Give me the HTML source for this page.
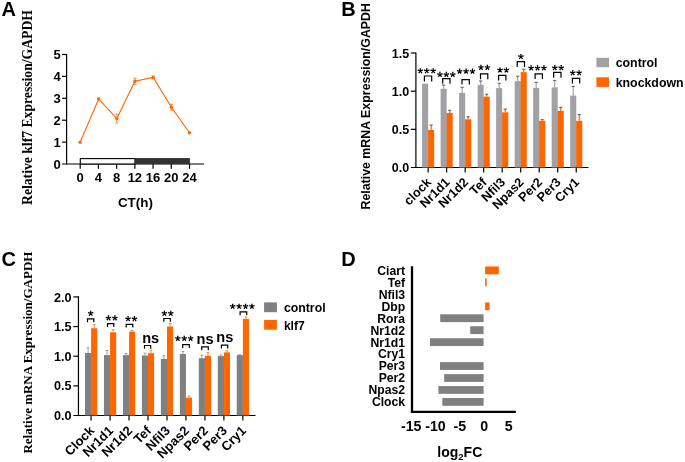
<!DOCTYPE html>
<html><head><meta charset="utf-8"><title>Figure</title>
<style>
html,body{margin:0;padding:0;background:#fff;}
body{width:685px;height:462px;overflow:hidden;font-family:"Liberation Sans",sans-serif;}
svg{display:block;will-change:transform;}
text{fill:#000;}
</style></head><body>
<svg width="685" height="462" viewBox="0 0 685 462">
<rect x="0" y="0" width="685" height="462" fill="#ffffff"/>
<text x="1.60" y="15.90" font-size="20" text-anchor="start" font-weight="bold" font-family="Liberation Sans, sans-serif" >A</text>
<text x="341.30" y="15.80" font-size="20" text-anchor="start" font-weight="bold" font-family="Liberation Sans, sans-serif" >B</text>
<text x="1.60" y="266.10" font-size="20" text-anchor="start" font-weight="bold" font-family="Liberation Sans, sans-serif" >C</text>
<text x="341.30" y="266.40" font-size="20" text-anchor="start" font-weight="bold" font-family="Liberation Sans, sans-serif" >D</text>
<line x1="66.60" y1="53.90" x2="66.60" y2="164.60" stroke="#000" stroke-width="1.2" />
<line x1="62.00" y1="164.00" x2="204.00" y2="164.00" stroke="#000" stroke-width="1.2" />
<text x="60.70" y="168.70" font-size="13" text-anchor="end" font-weight="bold" font-family="Liberation Sans, sans-serif" >0</text>
<line x1="62.00" y1="142.10" x2="66.60" y2="142.10" stroke="#000" stroke-width="1.2" />
<text x="60.70" y="146.80" font-size="13" text-anchor="end" font-weight="bold" font-family="Liberation Sans, sans-serif" >1</text>
<line x1="62.00" y1="120.20" x2="66.60" y2="120.20" stroke="#000" stroke-width="1.2" />
<text x="60.70" y="124.90" font-size="13" text-anchor="end" font-weight="bold" font-family="Liberation Sans, sans-serif" >2</text>
<line x1="62.00" y1="98.30" x2="66.60" y2="98.30" stroke="#000" stroke-width="1.2" />
<text x="60.70" y="103.00" font-size="13" text-anchor="end" font-weight="bold" font-family="Liberation Sans, sans-serif" >3</text>
<line x1="62.00" y1="76.40" x2="66.60" y2="76.40" stroke="#000" stroke-width="1.2" />
<text x="60.70" y="81.10" font-size="13" text-anchor="end" font-weight="bold" font-family="Liberation Sans, sans-serif" >4</text>
<line x1="62.00" y1="54.50" x2="66.60" y2="54.50" stroke="#000" stroke-width="1.2" />
<text x="60.70" y="59.20" font-size="13" text-anchor="end" font-weight="bold" font-family="Liberation Sans, sans-serif" >5</text>
<line x1="80.20" y1="164.00" x2="80.20" y2="168.80" stroke="#000" stroke-width="1.2" />
<text x="80.20" y="182.30" font-size="13" text-anchor="middle" font-weight="bold" font-family="Liberation Sans, sans-serif" >0</text>
<line x1="98.42" y1="164.00" x2="98.42" y2="168.80" stroke="#000" stroke-width="1.2" />
<text x="98.42" y="182.30" font-size="13" text-anchor="middle" font-weight="bold" font-family="Liberation Sans, sans-serif" >4</text>
<line x1="116.64" y1="164.00" x2="116.64" y2="168.80" stroke="#000" stroke-width="1.2" />
<text x="116.64" y="182.30" font-size="13" text-anchor="middle" font-weight="bold" font-family="Liberation Sans, sans-serif" >8</text>
<line x1="134.86" y1="164.00" x2="134.86" y2="168.80" stroke="#000" stroke-width="1.2" />
<text x="134.86" y="182.30" font-size="13" text-anchor="middle" font-weight="bold" font-family="Liberation Sans, sans-serif" >12</text>
<line x1="153.08" y1="164.00" x2="153.08" y2="168.80" stroke="#000" stroke-width="1.2" />
<text x="153.08" y="182.30" font-size="13" text-anchor="middle" font-weight="bold" font-family="Liberation Sans, sans-serif" >16</text>
<line x1="171.30" y1="164.00" x2="171.30" y2="168.80" stroke="#000" stroke-width="1.2" />
<text x="171.30" y="182.30" font-size="13" text-anchor="middle" font-weight="bold" font-family="Liberation Sans, sans-serif" >20</text>
<line x1="189.52" y1="164.00" x2="189.52" y2="168.80" stroke="#000" stroke-width="1.2" />
<text x="189.52" y="182.30" font-size="13" text-anchor="middle" font-weight="bold" font-family="Liberation Sans, sans-serif" >24</text>
<rect x="80.30" y="158.60" width="54.66" height="5.40" fill="#fff" stroke="#000" stroke-width="1.1"/>
<rect x="134.86" y="158.05" width="55.06" height="5.95" fill="#333" />
<text x="135.40" y="206.70" font-size="13.4" text-anchor="middle" font-weight="bold" font-family="Liberation Sans, sans-serif" >CT(h)</text>
<text transform="translate(31.8,107.5) rotate(-90)" font-size="14" textLength="195" lengthAdjust="spacingAndGlyphs" text-anchor="middle" font-weight="bold" font-family="Liberation Serif, serif">Relative klf7 Expression/GAPDH</text>
<polyline fill="none" stroke="#ff6600" stroke-width="1.1" points="80.1,142.3 98.7,99 116.8,118.6 134.9,81.3 153.2,77.4 171.4,107.3 189.5,132.7"/>
<circle cx="80.1" cy="142.3" r="1.7" fill="#ff6600"/>
<circle cx="98.7" cy="99" r="1.7" fill="#ff6600"/>
<line x1="98.70" y1="98.20" x2="98.70" y2="99.80" stroke="#ff6600" stroke-width="0.7" />
<line x1="97.10" y1="98.20" x2="100.30" y2="98.20" stroke="#ff6600" stroke-width="0.7" />
<line x1="97.10" y1="99.80" x2="100.30" y2="99.80" stroke="#ff6600" stroke-width="0.7" />
<circle cx="116.8" cy="118.6" r="1.7" fill="#ff6600"/>
<line x1="116.80" y1="114.20" x2="116.80" y2="123.00" stroke="#ff6600" stroke-width="0.7" />
<line x1="115.20" y1="114.20" x2="118.40" y2="114.20" stroke="#ff6600" stroke-width="0.7" />
<line x1="115.20" y1="123.00" x2="118.40" y2="123.00" stroke="#ff6600" stroke-width="0.7" />
<circle cx="134.9" cy="81.3" r="1.7" fill="#ff6600"/>
<line x1="134.90" y1="78.20" x2="134.90" y2="84.40" stroke="#ff6600" stroke-width="0.7" />
<line x1="133.30" y1="78.20" x2="136.50" y2="78.20" stroke="#ff6600" stroke-width="0.7" />
<line x1="133.30" y1="84.40" x2="136.50" y2="84.40" stroke="#ff6600" stroke-width="0.7" />
<circle cx="153.2" cy="77.4" r="1.7" fill="#ff6600"/>
<line x1="153.20" y1="76.00" x2="153.20" y2="78.80" stroke="#ff6600" stroke-width="0.7" />
<line x1="151.60" y1="76.00" x2="154.80" y2="76.00" stroke="#ff6600" stroke-width="0.7" />
<line x1="151.60" y1="78.80" x2="154.80" y2="78.80" stroke="#ff6600" stroke-width="0.7" />
<circle cx="171.4" cy="107.3" r="1.7" fill="#ff6600"/>
<line x1="171.40" y1="104.30" x2="171.40" y2="110.30" stroke="#ff6600" stroke-width="0.7" />
<line x1="169.80" y1="104.30" x2="173.00" y2="104.30" stroke="#ff6600" stroke-width="0.7" />
<line x1="169.80" y1="110.30" x2="173.00" y2="110.30" stroke="#ff6600" stroke-width="0.7" />
<circle cx="189.5" cy="132.7" r="1.7" fill="#ff6600"/>
<line x1="415.90" y1="52.40" x2="415.90" y2="168.10" stroke="#000" stroke-width="1.2" />
<line x1="410.90" y1="167.50" x2="588.50" y2="167.50" stroke="#000" stroke-width="1.2" />
<text x="409.20" y="172.00" font-size="12.5" text-anchor="end" font-weight="bold" font-family="Liberation Sans, sans-serif" >0.0</text>
<line x1="410.90" y1="129.33" x2="415.90" y2="129.33" stroke="#000" stroke-width="1.2" />
<text x="409.20" y="133.83" font-size="12.5" text-anchor="end" font-weight="bold" font-family="Liberation Sans, sans-serif" >0.5</text>
<line x1="410.90" y1="91.17" x2="415.90" y2="91.17" stroke="#000" stroke-width="1.2" />
<text x="409.20" y="95.67" font-size="12.5" text-anchor="end" font-weight="bold" font-family="Liberation Sans, sans-serif" >1.0</text>
<line x1="410.90" y1="53.00" x2="415.90" y2="53.00" stroke="#000" stroke-width="1.2" />
<text x="409.20" y="57.50" font-size="12.5" text-anchor="end" font-weight="bold" font-family="Liberation Sans, sans-serif" >1.5</text>
<text transform="translate(370,106.3) rotate(-90)" font-size="12.6" textLength="206.5" lengthAdjust="spacingAndGlyphs" text-anchor="middle" font-weight="bold" font-family="Liberation Sans, sans-serif">Relative mRNA Expression/GAPDH</text>
<line x1="431.18" y1="125.10" x2="431.18" y2="130.00" stroke="#ff6600" stroke-width="1.2" />
<line x1="429.57" y1="125.10" x2="432.78" y2="125.10" stroke="#333" stroke-width="0.8" />
<rect x="422.10" y="83.70" width="6.05" height="83.80" fill="#a1a1a6" />
<rect x="427.65" y="130.50" width="1.00" height="37.00" fill="#a1a1a6" />
<rect x="428.15" y="130.00" width="6.05" height="37.50" fill="#ff6600" />
<line x1="428.15" y1="167.50" x2="428.15" y2="172.40" stroke="#000" stroke-width="1.2" />
<polyline fill="none" stroke="#000" stroke-width="1.2" points="424.40,81.50 424.40,76.00 431.70,76.00 431.70,81.50"/>
<path d="M420.75,70.88 L421.08,68.13 L419.58,68.13 L419.91,70.88Z M420.46,71.28 L423.18,70.74 L422.71,69.32 L420.20,70.48Z M419.99,71.13 L421.34,73.55 L422.55,72.66 L420.67,70.63Z M419.99,70.63 L418.11,72.66 L419.32,73.55 L420.67,71.13Z M420.46,70.48 L417.95,69.32 L417.48,70.74 L420.20,71.28Z M427.17,70.88 L427.50,68.13 L426.00,68.13 L426.33,70.88Z M426.88,71.28 L429.60,70.74 L429.13,69.32 L426.62,70.48Z M426.41,71.13 L427.76,73.55 L428.97,72.66 L427.09,70.63Z M426.41,70.63 L424.53,72.66 L425.74,73.55 L427.09,71.13Z M426.88,70.48 L424.37,69.32 L423.90,70.74 L426.62,71.28Z M433.59,70.88 L433.92,68.13 L432.42,68.13 L432.75,70.88Z M433.30,71.28 L436.02,70.74 L435.55,69.32 L433.04,70.48Z M432.83,71.13 L434.18,73.55 L435.39,72.66 L433.51,70.63Z M432.83,70.63 L430.95,72.66 L432.16,73.55 L433.51,71.13Z M433.30,70.48 L430.79,69.32 L430.32,70.74 L433.04,71.28Z" fill="#000"/>
<text transform="translate(431.95,183.00) rotate(-45)" font-size="12.7" text-anchor="end" font-weight="bold" font-family="Liberation Sans, sans-serif">clock</text>
<line x1="443.63" y1="85.10" x2="443.63" y2="88.80" stroke="#a1a1a6" stroke-width="1.2" />
<line x1="442.03" y1="85.10" x2="445.24" y2="85.10" stroke="#333" stroke-width="0.8" />
<line x1="449.69" y1="110.30" x2="449.69" y2="113.00" stroke="#ff6600" stroke-width="1.2" />
<line x1="448.08" y1="110.30" x2="451.29" y2="110.30" stroke="#333" stroke-width="0.8" />
<rect x="440.61" y="88.80" width="6.05" height="78.70" fill="#a1a1a6" />
<rect x="446.16" y="113.50" width="1.00" height="54.00" fill="#a1a1a6" />
<rect x="446.66" y="113.00" width="6.05" height="54.50" fill="#ff6600" />
<line x1="446.66" y1="167.50" x2="446.66" y2="172.40" stroke="#000" stroke-width="1.2" />
<polyline fill="none" stroke="#000" stroke-width="1.2" points="442.70,83.70 442.70,78.60 450.00,78.60 450.00,83.70"/>
<path d="M440.36,74.58 L440.69,71.83 L439.19,71.83 L439.52,74.58Z M440.07,74.98 L442.79,74.44 L442.32,73.02 L439.81,74.18Z M439.60,74.83 L440.95,77.25 L442.16,76.36 L440.28,74.33Z M439.60,74.33 L437.72,76.36 L438.93,77.25 L440.28,74.83Z M440.07,74.18 L437.56,73.02 L437.09,74.44 L439.81,74.98Z M446.78,74.58 L447.11,71.83 L445.61,71.83 L445.94,74.58Z M446.49,74.98 L449.21,74.44 L448.74,73.02 L446.23,74.18Z M446.02,74.83 L447.37,77.25 L448.58,76.36 L446.70,74.33Z M446.02,74.33 L444.14,76.36 L445.35,77.25 L446.70,74.83Z M446.49,74.18 L443.98,73.02 L443.51,74.44 L446.23,74.98Z M453.20,74.58 L453.53,71.83 L452.03,71.83 L452.36,74.58Z M452.91,74.98 L455.63,74.44 L455.16,73.02 L452.65,74.18Z M452.44,74.83 L453.79,77.25 L455.00,76.36 L453.12,74.33Z M452.44,74.33 L450.56,76.36 L451.77,77.25 L453.12,74.83Z M452.91,74.18 L450.40,73.02 L449.93,74.44 L452.65,74.98Z" fill="#000"/>
<text transform="translate(450.46,183.00) rotate(-45)" font-size="12.7" text-anchor="end" font-weight="bold" font-family="Liberation Sans, sans-serif">Nr1d1</text>
<line x1="462.14" y1="87.30" x2="462.14" y2="92.90" stroke="#a1a1a6" stroke-width="1.2" />
<line x1="460.54" y1="87.30" x2="463.75" y2="87.30" stroke="#333" stroke-width="0.8" />
<line x1="468.19" y1="116.80" x2="468.19" y2="119.30" stroke="#ff6600" stroke-width="1.2" />
<line x1="466.59" y1="116.80" x2="469.80" y2="116.80" stroke="#333" stroke-width="0.8" />
<rect x="459.12" y="92.90" width="6.05" height="74.60" fill="#a1a1a6" />
<rect x="464.67" y="119.80" width="1.00" height="47.70" fill="#a1a1a6" />
<rect x="465.17" y="119.30" width="6.05" height="48.20" fill="#ff6600" />
<line x1="465.17" y1="167.50" x2="465.17" y2="172.40" stroke="#000" stroke-width="1.2" />
<polyline fill="none" stroke="#000" stroke-width="1.2" points="462.00,84.40 462.00,79.60 469.30,79.60 469.30,84.40"/>
<path d="M460.07,71.28 L460.40,68.53 L458.90,68.53 L459.23,71.28Z M459.78,71.68 L462.50,71.14 L462.03,69.72 L459.52,70.88Z M459.31,71.53 L460.66,73.95 L461.87,73.06 L459.99,71.03Z M459.31,71.03 L457.43,73.06 L458.64,73.95 L459.99,71.53Z M459.78,70.88 L457.27,69.72 L456.80,71.14 L459.52,71.68Z M466.49,71.28 L466.82,68.53 L465.32,68.53 L465.65,71.28Z M466.20,71.68 L468.92,71.14 L468.45,69.72 L465.94,70.88Z M465.73,71.53 L467.08,73.95 L468.29,73.06 L466.41,71.03Z M465.73,71.03 L463.85,73.06 L465.06,73.95 L466.41,71.53Z M466.20,70.88 L463.69,69.72 L463.22,71.14 L465.94,71.68Z M472.91,71.28 L473.24,68.53 L471.74,68.53 L472.07,71.28Z M472.62,71.68 L475.34,71.14 L474.87,69.72 L472.36,70.88Z M472.15,71.53 L473.50,73.95 L474.71,73.06 L472.83,71.03Z M472.15,71.03 L470.27,73.06 L471.48,73.95 L472.83,71.53Z M472.62,70.88 L470.11,69.72 L469.64,71.14 L472.36,71.68Z" fill="#000"/>
<text transform="translate(468.97,183.00) rotate(-45)" font-size="12.7" text-anchor="end" font-weight="bold" font-family="Liberation Sans, sans-serif">Nr1d2</text>
<line x1="480.65" y1="81.00" x2="480.65" y2="84.90" stroke="#a1a1a6" stroke-width="1.2" />
<line x1="479.05" y1="81.00" x2="482.25" y2="81.00" stroke="#333" stroke-width="0.8" />
<line x1="486.70" y1="94.20" x2="486.70" y2="96.60" stroke="#ff6600" stroke-width="1.2" />
<line x1="485.10" y1="94.20" x2="488.31" y2="94.20" stroke="#333" stroke-width="0.8" />
<rect x="477.63" y="84.90" width="6.05" height="82.60" fill="#a1a1a6" />
<rect x="483.18" y="97.10" width="1.00" height="70.40" fill="#a1a1a6" />
<rect x="483.68" y="96.60" width="6.05" height="70.90" fill="#ff6600" />
<line x1="483.68" y1="167.50" x2="483.68" y2="172.40" stroke="#000" stroke-width="1.2" />
<polyline fill="none" stroke="#000" stroke-width="1.2" points="480.50,79.30 480.50,73.80 487.80,73.80 487.80,79.30"/>
<path d="M481.39,67.48 L481.72,64.73 L480.22,64.73 L480.55,67.48Z M481.10,67.88 L483.82,67.34 L483.35,65.92 L480.84,67.08Z M480.63,67.73 L481.98,70.15 L483.19,69.26 L481.31,67.23Z M480.63,67.23 L478.75,69.26 L479.96,70.15 L481.31,67.73Z M481.10,67.08 L478.59,65.92 L478.12,67.34 L480.84,67.88Z M487.81,67.48 L488.14,64.73 L486.64,64.73 L486.97,67.48Z M487.52,67.88 L490.24,67.34 L489.77,65.92 L487.26,67.08Z M487.05,67.73 L488.40,70.15 L489.61,69.26 L487.73,67.23Z M487.05,67.23 L485.17,69.26 L486.38,70.15 L487.73,67.73Z M487.52,67.08 L485.01,65.92 L484.54,67.34 L487.26,67.88Z" fill="#000"/>
<text transform="translate(487.48,183.00) rotate(-45)" font-size="12.7" text-anchor="end" font-weight="bold" font-family="Liberation Sans, sans-serif">Tef</text>
<line x1="499.17" y1="83.30" x2="499.17" y2="88.10" stroke="#a1a1a6" stroke-width="1.2" />
<line x1="497.56" y1="83.30" x2="500.77" y2="83.30" stroke="#333" stroke-width="0.8" />
<line x1="505.22" y1="109.10" x2="505.22" y2="112.30" stroke="#ff6600" stroke-width="1.2" />
<line x1="503.62" y1="109.10" x2="506.82" y2="109.10" stroke="#333" stroke-width="0.8" />
<rect x="496.14" y="88.10" width="6.05" height="79.40" fill="#a1a1a6" />
<rect x="501.69" y="112.80" width="1.00" height="54.70" fill="#a1a1a6" />
<rect x="502.19" y="112.30" width="6.05" height="55.20" fill="#ff6600" />
<line x1="502.19" y1="167.50" x2="502.19" y2="172.40" stroke="#000" stroke-width="1.2" />
<polyline fill="none" stroke="#000" stroke-width="1.2" points="498.60,80.50 498.60,75.30 505.90,75.30 505.90,80.50"/>
<path d="M500.40,70.18 L500.73,67.43 L499.23,67.43 L499.56,70.18Z M500.11,70.58 L502.83,70.04 L502.36,68.62 L499.85,69.78Z M499.64,70.43 L500.99,72.85 L502.20,71.96 L500.32,69.93Z M499.64,69.93 L497.76,71.96 L498.97,72.85 L500.32,70.43Z M500.11,69.78 L497.60,68.62 L497.13,70.04 L499.85,70.58Z M506.82,70.18 L507.15,67.43 L505.65,67.43 L505.98,70.18Z M506.53,70.58 L509.25,70.04 L508.78,68.62 L506.27,69.78Z M506.06,70.43 L507.41,72.85 L508.62,71.96 L506.74,69.93Z M506.06,69.93 L504.18,71.96 L505.39,72.85 L506.74,70.43Z M506.53,69.78 L504.02,68.62 L503.55,70.04 L506.27,70.58Z" fill="#000"/>
<text transform="translate(505.99,183.00) rotate(-45)" font-size="12.7" text-anchor="end" font-weight="bold" font-family="Liberation Sans, sans-serif">Nfil3</text>
<line x1="517.68" y1="76.20" x2="517.68" y2="81.20" stroke="#a1a1a6" stroke-width="1.2" />
<line x1="516.08" y1="76.20" x2="519.28" y2="76.20" stroke="#333" stroke-width="0.8" />
<line x1="523.73" y1="69.20" x2="523.73" y2="72.10" stroke="#ff6600" stroke-width="1.2" />
<line x1="522.13" y1="69.20" x2="525.33" y2="69.20" stroke="#333" stroke-width="0.8" />
<rect x="514.65" y="81.20" width="6.05" height="86.30" fill="#a1a1a6" />
<rect x="520.20" y="81.70" width="1.00" height="85.80" fill="#a1a1a6" />
<rect x="520.70" y="72.10" width="6.05" height="95.40" fill="#ff6600" />
<line x1="520.70" y1="167.50" x2="520.70" y2="172.40" stroke="#000" stroke-width="1.2" />
<polyline fill="none" stroke="#000" stroke-width="1.2" points="517.20,67.00 517.20,61.60 524.50,61.60 524.50,67.00"/>
<path d="M521.32,56.68 L521.65,53.93 L520.15,53.93 L520.48,56.68Z M521.03,57.08 L523.75,56.54 L523.28,55.12 L520.77,56.28Z M520.56,56.93 L521.91,59.35 L523.12,58.46 L521.24,56.43Z M520.56,56.43 L518.68,58.46 L519.89,59.35 L521.24,56.93Z M521.03,56.28 L518.52,55.12 L518.05,56.54 L520.77,57.08Z" fill="#000"/>
<text transform="translate(524.50,183.00) rotate(-45)" font-size="12.7" text-anchor="end" font-weight="bold" font-family="Liberation Sans, sans-serif">Npas2</text>
<line x1="536.19" y1="82.30" x2="536.19" y2="87.90" stroke="#a1a1a6" stroke-width="1.2" />
<line x1="534.59" y1="82.30" x2="537.79" y2="82.30" stroke="#333" stroke-width="0.8" />
<line x1="542.24" y1="119.70" x2="542.24" y2="120.80" stroke="#ff6600" stroke-width="1.2" />
<line x1="540.64" y1="119.70" x2="543.84" y2="119.70" stroke="#333" stroke-width="0.8" />
<rect x="533.16" y="87.90" width="6.05" height="79.60" fill="#a1a1a6" />
<rect x="538.71" y="121.30" width="1.00" height="46.20" fill="#a1a1a6" />
<rect x="539.21" y="120.80" width="6.05" height="46.70" fill="#ff6600" />
<line x1="539.21" y1="167.50" x2="539.21" y2="172.40" stroke="#000" stroke-width="1.2" />
<polyline fill="none" stroke="#000" stroke-width="1.2" points="535.10,79.10 535.10,73.90 542.40,73.90 542.40,79.10"/>
<path d="M531.51,68.08 L531.84,65.33 L530.34,65.33 L530.67,68.08Z M531.22,68.48 L533.94,67.94 L533.47,66.52 L530.96,67.68Z M530.75,68.33 L532.10,70.75 L533.31,69.86 L531.43,67.83Z M530.75,67.83 L528.87,69.86 L530.08,70.75 L531.43,68.33Z M531.22,67.68 L528.71,66.52 L528.24,67.94 L530.96,68.48Z M537.93,68.08 L538.26,65.33 L536.76,65.33 L537.09,68.08Z M537.64,68.48 L540.36,67.94 L539.89,66.52 L537.38,67.68Z M537.17,68.33 L538.52,70.75 L539.73,69.86 L537.85,67.83Z M537.17,67.83 L535.29,69.86 L536.50,70.75 L537.85,68.33Z M537.64,67.68 L535.13,66.52 L534.66,67.94 L537.38,68.48Z M544.35,68.08 L544.68,65.33 L543.18,65.33 L543.51,68.08Z M544.06,68.48 L546.78,67.94 L546.31,66.52 L543.80,67.68Z M543.59,68.33 L544.94,70.75 L546.15,69.86 L544.27,67.83Z M543.59,67.83 L541.71,69.86 L542.92,70.75 L544.27,68.33Z M544.06,67.68 L541.55,66.52 L541.08,67.94 L543.80,68.48Z" fill="#000"/>
<text transform="translate(543.01,183.00) rotate(-45)" font-size="12.7" text-anchor="end" font-weight="bold" font-family="Liberation Sans, sans-serif">Per2</text>
<line x1="554.70" y1="80.40" x2="554.70" y2="87.40" stroke="#a1a1a6" stroke-width="1.2" />
<line x1="553.10" y1="80.40" x2="556.30" y2="80.40" stroke="#333" stroke-width="0.8" />
<line x1="560.75" y1="107.30" x2="560.75" y2="111.00" stroke="#ff6600" stroke-width="1.2" />
<line x1="559.15" y1="107.30" x2="562.35" y2="107.30" stroke="#333" stroke-width="0.8" />
<rect x="551.67" y="87.40" width="6.05" height="80.10" fill="#a1a1a6" />
<rect x="557.22" y="111.50" width="1.00" height="56.00" fill="#a1a1a6" />
<rect x="557.72" y="111.00" width="6.05" height="56.50" fill="#ff6600" />
<line x1="557.72" y1="167.50" x2="557.72" y2="172.40" stroke="#000" stroke-width="1.2" />
<polyline fill="none" stroke="#000" stroke-width="1.2" points="553.70,77.70 553.70,72.40 561.00,72.40 561.00,77.70"/>
<path d="M555.23,67.78 L555.56,65.03 L554.06,65.03 L554.39,67.78Z M554.94,68.18 L557.66,67.64 L557.19,66.22 L554.68,67.38Z M554.47,68.03 L555.82,70.45 L557.03,69.56 L555.15,67.53Z M554.47,67.53 L552.59,69.56 L553.80,70.45 L555.15,68.03Z M554.94,67.38 L552.43,66.22 L551.96,67.64 L554.68,68.18Z M561.65,67.78 L561.98,65.03 L560.48,65.03 L560.81,67.78Z M561.36,68.18 L564.08,67.64 L563.61,66.22 L561.10,67.38Z M560.89,68.03 L562.24,70.45 L563.45,69.56 L561.57,67.53Z M560.89,67.53 L559.01,69.56 L560.22,70.45 L561.57,68.03Z M561.36,67.38 L558.85,66.22 L558.38,67.64 L561.10,68.18Z" fill="#000"/>
<text transform="translate(561.52,183.00) rotate(-45)" font-size="12.7" text-anchor="end" font-weight="bold" font-family="Liberation Sans, sans-serif">Per3</text>
<line x1="573.21" y1="86.40" x2="573.21" y2="95.50" stroke="#a1a1a6" stroke-width="1.2" />
<line x1="571.61" y1="86.40" x2="574.81" y2="86.40" stroke="#333" stroke-width="0.8" />
<line x1="579.26" y1="114.60" x2="579.26" y2="120.80" stroke="#ff6600" stroke-width="1.2" />
<line x1="577.66" y1="114.60" x2="580.86" y2="114.60" stroke="#333" stroke-width="0.8" />
<rect x="570.18" y="95.50" width="6.05" height="72.00" fill="#a1a1a6" />
<rect x="575.73" y="121.30" width="1.00" height="46.20" fill="#a1a1a6" />
<rect x="576.23" y="120.80" width="6.05" height="46.70" fill="#ff6600" />
<line x1="576.23" y1="167.50" x2="576.23" y2="172.40" stroke="#000" stroke-width="1.2" />
<polyline fill="none" stroke="#000" stroke-width="1.2" points="572.40,83.50 572.40,78.40 579.70,78.40 579.70,83.50"/>
<path d="M573.14,72.88 L573.47,70.13 L571.97,70.13 L572.30,72.88Z M572.85,73.28 L575.57,72.74 L575.10,71.32 L572.59,72.48Z M572.38,73.13 L573.73,75.55 L574.94,74.66 L573.06,72.63Z M572.38,72.63 L570.50,74.66 L571.71,75.55 L573.06,73.13Z M572.85,72.48 L570.34,71.32 L569.87,72.74 L572.59,73.28Z M579.56,72.88 L579.89,70.13 L578.39,70.13 L578.72,72.88Z M579.27,73.28 L581.99,72.74 L581.52,71.32 L579.01,72.48Z M578.80,73.13 L580.15,75.55 L581.36,74.66 L579.48,72.63Z M578.80,72.63 L576.92,74.66 L578.13,75.55 L579.48,73.13Z M579.27,72.48 L576.76,71.32 L576.29,72.74 L579.01,73.28Z" fill="#000"/>
<text transform="translate(580.03,183.00) rotate(-45)" font-size="12.7" text-anchor="end" font-weight="bold" font-family="Liberation Sans, sans-serif">Cry1</text>
<rect x="596.40" y="57.80" width="12.60" height="9.40" fill="#a1a1a6" />
<rect x="596.40" y="77.30" width="12.60" height="9.60" fill="#ff6600" />
<text x="615.70" y="67.00" font-size="12.35" text-anchor="start" font-weight="bold" font-family="Liberation Sans, sans-serif" >control</text>
<text x="615.70" y="86.70" font-size="12.35" text-anchor="start" font-weight="bold" font-family="Liberation Sans, sans-serif" >knockdown</text>
<line x1="78.45" y1="296.30" x2="78.45" y2="416.10" stroke="#000" stroke-width="1.2" />
<line x1="73.35" y1="415.50" x2="255.50" y2="415.50" stroke="#000" stroke-width="1.2" />
<text x="71.40" y="420.10" font-size="12.6" text-anchor="end" font-weight="bold" font-family="Liberation Sans, sans-serif" >0.0</text>
<line x1="73.35" y1="385.85" x2="78.45" y2="385.85" stroke="#000" stroke-width="1.2" />
<text x="71.40" y="390.45" font-size="12.6" text-anchor="end" font-weight="bold" font-family="Liberation Sans, sans-serif" >0.5</text>
<line x1="73.35" y1="356.20" x2="78.45" y2="356.20" stroke="#000" stroke-width="1.2" />
<text x="71.40" y="360.80" font-size="12.6" text-anchor="end" font-weight="bold" font-family="Liberation Sans, sans-serif" >1.0</text>
<line x1="73.35" y1="326.55" x2="78.45" y2="326.55" stroke="#000" stroke-width="1.2" />
<text x="71.40" y="331.15" font-size="12.6" text-anchor="end" font-weight="bold" font-family="Liberation Sans, sans-serif" >1.5</text>
<line x1="73.35" y1="296.90" x2="78.45" y2="296.90" stroke="#000" stroke-width="1.2" />
<text x="71.40" y="301.50" font-size="12.6" text-anchor="end" font-weight="bold" font-family="Liberation Sans, sans-serif" >2.0</text>
<text transform="translate(31.8,352.6) rotate(-90)" font-size="13.0" text-anchor="middle" font-weight="bold" font-family="Liberation Serif, serif">Relative mRNA Expression/GAPDH</text>
<line x1="88.05" y1="347.80" x2="88.05" y2="353.00" stroke="#808080" stroke-width="0.75" />
<line x1="86.65" y1="347.80" x2="89.45" y2="347.80" stroke="#808080" stroke-width="0.75" />
<line x1="94.15" y1="324.60" x2="94.15" y2="328.20" stroke="#ff6600" stroke-width="0.75" />
<line x1="92.75" y1="324.60" x2="95.55" y2="324.60" stroke="#ff6600" stroke-width="0.75" />
<rect x="85.00" y="353.00" width="6.10" height="62.50" fill="#808080" />
<rect x="90.60" y="353.50" width="1.00" height="62.00" fill="#808080" />
<rect x="91.10" y="328.20" width="6.10" height="87.30" fill="#ff6600" />
<line x1="91.10" y1="415.50" x2="91.10" y2="420.50" stroke="#000" stroke-width="1.2" />
<polyline fill="none" stroke="#000" stroke-width="1.2" points="87.50,322.20 87.50,318.90 93.80,318.90 93.80,322.20"/>
<path d="M91.12,313.38 L91.45,310.63 L89.95,310.63 L90.28,313.38Z M90.83,313.78 L93.55,313.24 L93.08,311.82 L90.57,312.98Z M90.36,313.63 L91.71,316.05 L92.92,315.16 L91.04,313.13Z M90.36,313.13 L88.48,315.16 L89.69,316.05 L91.04,313.63Z M90.83,312.98 L88.32,311.82 L87.85,313.24 L90.57,313.78Z" fill="#000"/>
<text transform="translate(95.10,431.50) rotate(-45)" font-size="13.0" text-anchor="end" font-weight="bold" font-family="Liberation Sans, sans-serif">Clock</text>
<line x1="107.02" y1="350.50" x2="107.02" y2="355.10" stroke="#808080" stroke-width="0.75" />
<line x1="105.62" y1="350.50" x2="108.42" y2="350.50" stroke="#808080" stroke-width="0.75" />
<line x1="113.12" y1="329.70" x2="113.12" y2="332.30" stroke="#ff6600" stroke-width="0.75" />
<line x1="111.72" y1="329.70" x2="114.52" y2="329.70" stroke="#ff6600" stroke-width="0.75" />
<rect x="103.97" y="355.10" width="6.10" height="60.40" fill="#808080" />
<rect x="109.57" y="355.60" width="1.00" height="59.90" fill="#808080" />
<rect x="110.07" y="332.30" width="6.10" height="83.20" fill="#ff6600" />
<line x1="110.07" y1="415.50" x2="110.07" y2="420.50" stroke="#000" stroke-width="1.2" />
<polyline fill="none" stroke="#000" stroke-width="1.2" points="107.50,326.90 107.50,323.60 113.80,323.60 113.80,326.90"/>
<path d="M108.88,318.08 L109.21,315.33 L107.71,315.33 L108.04,318.08Z M108.59,318.48 L111.31,317.94 L110.84,316.52 L108.33,317.68Z M108.12,318.33 L109.47,320.75 L110.68,319.86 L108.80,317.83Z M108.12,317.83 L106.24,319.86 L107.45,320.75 L108.80,318.33Z M108.59,317.68 L106.08,316.52 L105.61,317.94 L108.33,318.48Z M115.30,318.08 L115.63,315.33 L114.13,315.33 L114.46,318.08Z M115.01,318.48 L117.73,317.94 L117.26,316.52 L114.75,317.68Z M114.54,318.33 L115.89,320.75 L117.10,319.86 L115.22,317.83Z M114.54,317.83 L112.66,319.86 L113.87,320.75 L115.22,318.33Z M115.01,317.68 L112.50,316.52 L112.03,317.94 L114.75,318.48Z" fill="#000"/>
<text transform="translate(114.07,431.50) rotate(-45)" font-size="13.0" text-anchor="end" font-weight="bold" font-family="Liberation Sans, sans-serif">Nr1d1</text>
<line x1="125.99" y1="353.50" x2="125.99" y2="355.10" stroke="#808080" stroke-width="0.75" />
<line x1="124.59" y1="353.50" x2="127.39" y2="353.50" stroke="#808080" stroke-width="0.75" />
<line x1="132.09" y1="330.60" x2="132.09" y2="331.60" stroke="#ff6600" stroke-width="0.75" />
<line x1="130.69" y1="330.60" x2="133.49" y2="330.60" stroke="#ff6600" stroke-width="0.75" />
<rect x="122.94" y="355.10" width="6.10" height="60.40" fill="#808080" />
<rect x="128.54" y="355.60" width="1.00" height="59.90" fill="#808080" />
<rect x="129.04" y="331.60" width="6.10" height="83.90" fill="#ff6600" />
<line x1="129.04" y1="415.50" x2="129.04" y2="420.50" stroke="#000" stroke-width="1.2" />
<polyline fill="none" stroke="#000" stroke-width="1.2" points="126.20,327.60 126.20,324.30 132.80,324.30 132.80,327.60"/>
<path d="M128.45,318.78 L128.78,316.03 L127.28,316.03 L127.61,318.78Z M128.16,319.18 L130.88,318.64 L130.41,317.22 L127.90,318.38Z M127.69,319.03 L129.04,321.45 L130.25,320.56 L128.37,318.53Z M127.69,318.53 L125.81,320.56 L127.02,321.45 L128.37,319.03Z M128.16,318.38 L125.65,317.22 L125.18,318.64 L127.90,319.18Z M134.87,318.78 L135.20,316.03 L133.70,316.03 L134.03,318.78Z M134.58,319.18 L137.30,318.64 L136.83,317.22 L134.32,318.38Z M134.11,319.03 L135.46,321.45 L136.67,320.56 L134.79,318.53Z M134.11,318.53 L132.23,320.56 L133.44,321.45 L134.79,319.03Z M134.58,318.38 L132.07,317.22 L131.60,318.64 L134.32,319.18Z" fill="#000"/>
<text transform="translate(133.04,431.50) rotate(-45)" font-size="13.0" text-anchor="end" font-weight="bold" font-family="Liberation Sans, sans-serif">Nr1d2</text>
<line x1="144.96" y1="353.20" x2="144.96" y2="355.50" stroke="#808080" stroke-width="0.75" />
<line x1="143.56" y1="353.20" x2="146.36" y2="353.20" stroke="#808080" stroke-width="0.75" />
<line x1="151.06" y1="350.20" x2="151.06" y2="353.20" stroke="#ff6600" stroke-width="0.75" />
<line x1="149.66" y1="350.20" x2="152.46" y2="350.20" stroke="#ff6600" stroke-width="0.75" />
<rect x="141.91" y="355.50" width="6.10" height="60.00" fill="#808080" />
<rect x="147.51" y="356.00" width="1.00" height="59.50" fill="#808080" />
<rect x="148.01" y="353.20" width="6.10" height="62.30" fill="#ff6600" />
<line x1="148.01" y1="415.50" x2="148.01" y2="420.50" stroke="#000" stroke-width="1.2" />
<polyline fill="none" stroke="#000" stroke-width="1.2" points="144.50,348.80 144.50,345.50 150.70,345.50 150.70,348.80"/>
<text x="150.71" y="342.80" font-size="14.6" text-anchor="middle" font-weight="bold" font-family="Liberation Sans, sans-serif" >ns</text>
<text transform="translate(152.01,431.50) rotate(-45)" font-size="13.0" text-anchor="end" font-weight="bold" font-family="Liberation Sans, sans-serif">Tef</text>
<line x1="163.93" y1="355.70" x2="163.93" y2="359.00" stroke="#808080" stroke-width="0.75" />
<line x1="162.53" y1="355.70" x2="165.33" y2="355.70" stroke="#808080" stroke-width="0.75" />
<line x1="170.03" y1="323.60" x2="170.03" y2="326.50" stroke="#ff6600" stroke-width="0.75" />
<line x1="168.63" y1="323.60" x2="171.43" y2="323.60" stroke="#ff6600" stroke-width="0.75" />
<rect x="160.88" y="359.00" width="6.10" height="56.50" fill="#808080" />
<rect x="166.48" y="359.50" width="1.00" height="56.00" fill="#808080" />
<rect x="166.98" y="326.50" width="6.10" height="89.00" fill="#ff6600" />
<line x1="166.98" y1="415.50" x2="166.98" y2="420.50" stroke="#000" stroke-width="1.2" />
<polyline fill="none" stroke="#000" stroke-width="1.2" points="163.80,321.80 163.80,318.50 170.30,318.50 170.30,321.80"/>
<path d="M164.79,313.38 L165.12,310.63 L163.62,310.63 L163.95,313.38Z M164.50,313.78 L167.22,313.24 L166.75,311.82 L164.24,312.98Z M164.03,313.63 L165.38,316.05 L166.59,315.16 L164.71,313.13Z M164.03,313.13 L162.15,315.16 L163.36,316.05 L164.71,313.63Z M164.50,312.98 L161.99,311.82 L161.52,313.24 L164.24,313.78Z M171.21,313.38 L171.54,310.63 L170.04,310.63 L170.37,313.38Z M170.92,313.78 L173.64,313.24 L173.17,311.82 L170.66,312.98Z M170.45,313.63 L171.80,316.05 L173.01,315.16 L171.13,313.13Z M170.45,313.13 L168.57,315.16 L169.78,316.05 L171.13,313.63Z M170.92,312.98 L168.41,311.82 L167.94,313.24 L170.66,313.78Z" fill="#000"/>
<text transform="translate(170.98,431.50) rotate(-45)" font-size="13.0" text-anchor="end" font-weight="bold" font-family="Liberation Sans, sans-serif">Nfil3</text>
<line x1="182.90" y1="351.40" x2="182.90" y2="354.00" stroke="#808080" stroke-width="0.75" />
<line x1="181.50" y1="351.40" x2="184.30" y2="351.40" stroke="#808080" stroke-width="0.75" />
<line x1="189.00" y1="395.90" x2="189.00" y2="397.60" stroke="#ff6600" stroke-width="0.75" />
<line x1="187.60" y1="395.90" x2="190.40" y2="395.90" stroke="#ff6600" stroke-width="0.75" />
<rect x="179.85" y="354.00" width="6.10" height="61.50" fill="#808080" />
<rect x="185.45" y="398.10" width="1.00" height="17.40" fill="#808080" />
<rect x="185.95" y="397.60" width="6.10" height="17.90" fill="#ff6600" />
<line x1="185.95" y1="415.50" x2="185.95" y2="420.50" stroke="#000" stroke-width="1.2" />
<polyline fill="none" stroke="#000" stroke-width="1.2" points="182.70,348.10 182.70,344.70 189.30,344.70 189.30,348.10"/>
<path d="M178.25,338.48 L178.58,335.73 L177.08,335.73 L177.41,338.48Z M177.96,338.88 L180.68,338.34 L180.21,336.92 L177.70,338.08Z M177.49,338.73 L178.84,341.15 L180.05,340.26 L178.17,338.23Z M177.49,338.23 L175.61,340.26 L176.82,341.15 L178.17,338.73Z M177.96,338.08 L175.45,336.92 L174.98,338.34 L177.70,338.88Z M184.67,338.48 L185.00,335.73 L183.50,335.73 L183.83,338.48Z M184.38,338.88 L187.10,338.34 L186.63,336.92 L184.12,338.08Z M183.91,338.73 L185.26,341.15 L186.47,340.26 L184.59,338.23Z M183.91,338.23 L182.03,340.26 L183.24,341.15 L184.59,338.73Z M184.38,338.08 L181.87,336.92 L181.40,338.34 L184.12,338.88Z M191.09,338.48 L191.42,335.73 L189.92,335.73 L190.25,338.48Z M190.80,338.88 L193.52,338.34 L193.05,336.92 L190.54,338.08Z M190.33,338.73 L191.68,341.15 L192.89,340.26 L191.01,338.23Z M190.33,338.23 L188.45,340.26 L189.66,341.15 L191.01,338.73Z M190.80,338.08 L188.29,336.92 L187.82,338.34 L190.54,338.88Z" fill="#000"/>
<text transform="translate(189.95,431.50) rotate(-45)" font-size="13.0" text-anchor="end" font-weight="bold" font-family="Liberation Sans, sans-serif">Npas2</text>
<line x1="201.87" y1="355.20" x2="201.87" y2="358.20" stroke="#808080" stroke-width="0.75" />
<line x1="200.47" y1="355.20" x2="203.27" y2="355.20" stroke="#808080" stroke-width="0.75" />
<line x1="207.97" y1="352.50" x2="207.97" y2="355.80" stroke="#ff6600" stroke-width="0.75" />
<line x1="206.57" y1="352.50" x2="209.37" y2="352.50" stroke="#ff6600" stroke-width="0.75" />
<rect x="198.82" y="358.20" width="6.10" height="57.30" fill="#808080" />
<rect x="204.42" y="358.70" width="1.00" height="56.80" fill="#808080" />
<rect x="204.92" y="355.80" width="6.10" height="59.70" fill="#ff6600" />
<line x1="204.92" y1="415.50" x2="204.92" y2="420.50" stroke="#000" stroke-width="1.2" />
<polyline fill="none" stroke="#000" stroke-width="1.2" points="201.70,350.30 201.70,346.90 208.30,346.90 208.30,350.30"/>
<text x="205.02" y="344.20" font-size="14.6" text-anchor="middle" font-weight="bold" font-family="Liberation Sans, sans-serif" >ns</text>
<text transform="translate(208.92,431.50) rotate(-45)" font-size="13.0" text-anchor="end" font-weight="bold" font-family="Liberation Sans, sans-serif">Per2</text>
<line x1="220.84" y1="355.00" x2="220.84" y2="356.10" stroke="#808080" stroke-width="0.75" />
<line x1="219.44" y1="355.00" x2="222.24" y2="355.00" stroke="#808080" stroke-width="0.75" />
<line x1="226.94" y1="350.80" x2="226.94" y2="352.40" stroke="#ff6600" stroke-width="0.75" />
<line x1="225.54" y1="350.80" x2="228.34" y2="350.80" stroke="#ff6600" stroke-width="0.75" />
<rect x="217.79" y="356.10" width="6.10" height="59.40" fill="#808080" />
<rect x="223.39" y="356.60" width="1.00" height="58.90" fill="#808080" />
<rect x="223.89" y="352.40" width="6.10" height="63.10" fill="#ff6600" />
<line x1="223.89" y1="415.50" x2="223.89" y2="420.50" stroke="#000" stroke-width="1.2" />
<polyline fill="none" stroke="#000" stroke-width="1.2" points="221.40,348.50 221.40,345.20 227.70,345.20 227.70,348.50"/>
<text x="224.89" y="342.10" font-size="14.6" text-anchor="middle" font-weight="bold" font-family="Liberation Sans, sans-serif" >ns</text>
<text transform="translate(227.89,431.50) rotate(-45)" font-size="13.0" text-anchor="end" font-weight="bold" font-family="Liberation Sans, sans-serif">Per3</text>
<line x1="239.81" y1="354.70" x2="239.81" y2="355.10" stroke="#808080" stroke-width="0.75" />
<line x1="238.41" y1="354.70" x2="241.21" y2="354.70" stroke="#808080" stroke-width="0.75" />
<line x1="245.91" y1="317.00" x2="245.91" y2="318.90" stroke="#ff6600" stroke-width="0.75" />
<line x1="244.51" y1="317.00" x2="247.31" y2="317.00" stroke="#ff6600" stroke-width="0.75" />
<rect x="236.76" y="355.10" width="6.10" height="60.40" fill="#808080" />
<rect x="242.36" y="355.60" width="1.00" height="59.90" fill="#808080" />
<rect x="242.86" y="318.90" width="6.10" height="96.60" fill="#ff6600" />
<line x1="242.86" y1="415.50" x2="242.86" y2="420.50" stroke="#000" stroke-width="1.2" />
<polyline fill="none" stroke="#000" stroke-width="1.2" points="240.10,315.20 240.10,311.90 246.70,311.90 246.70,315.20"/>
<path d="M233.10,306.38 L233.43,303.63 L231.93,303.63 L232.26,306.38Z M232.81,306.78 L235.53,306.24 L235.06,304.82 L232.55,305.98Z M232.34,306.63 L233.69,309.05 L234.90,308.16 L233.02,306.13Z M232.34,306.13 L230.46,308.16 L231.67,309.05 L233.02,306.63Z M232.81,305.98 L230.30,304.82 L229.83,306.24 L232.55,306.78Z M239.52,306.38 L239.85,303.63 L238.35,303.63 L238.68,306.38Z M239.23,306.78 L241.95,306.24 L241.48,304.82 L238.97,305.98Z M238.76,306.63 L240.11,309.05 L241.32,308.16 L239.44,306.13Z M238.76,306.13 L236.88,308.16 L238.09,309.05 L239.44,306.63Z M239.23,305.98 L236.72,304.82 L236.25,306.24 L238.97,306.78Z M245.94,306.38 L246.27,303.63 L244.77,303.63 L245.10,306.38Z M245.65,306.78 L248.37,306.24 L247.90,304.82 L245.39,305.98Z M245.18,306.63 L246.53,309.05 L247.74,308.16 L245.86,306.13Z M245.18,306.13 L243.30,308.16 L244.51,309.05 L245.86,306.63Z M245.65,305.98 L243.14,304.82 L242.67,306.24 L245.39,306.78Z M252.36,306.38 L252.69,303.63 L251.19,303.63 L251.52,306.38Z M252.07,306.78 L254.79,306.24 L254.32,304.82 L251.81,305.98Z M251.60,306.63 L252.95,309.05 L254.16,308.16 L252.28,306.13Z M251.60,306.13 L249.72,308.16 L250.93,309.05 L252.28,306.63Z M252.07,305.98 L249.56,304.82 L249.09,306.24 L251.81,306.78Z" fill="#000"/>
<text transform="translate(246.86,431.50) rotate(-45)" font-size="13.0" text-anchor="end" font-weight="bold" font-family="Liberation Sans, sans-serif">Cry1</text>
<rect x="264.10" y="302.40" width="12.80" height="9.80" fill="#808080" />
<rect x="264.10" y="319.90" width="12.80" height="9.80" fill="#ff6600" />
<text x="283.90" y="311.90" font-size="12.3" text-anchor="start" font-weight="bold" font-family="Liberation Sans, sans-serif" >control</text>
<text x="283.90" y="329.50" font-size="12.1" text-anchor="start" font-weight="bold" font-family="Liberation Sans, sans-serif" >klf7</text>
<line x1="412.00" y1="266.20" x2="412.00" y2="412.95" stroke="#000" stroke-width="2.3" />
<line x1="410.85" y1="411.80" x2="515.80" y2="411.80" stroke="#000" stroke-width="2.3" />
<text x="411.20" y="431.10" font-size="14.2" text-anchor="middle" font-weight="bold" font-family="Liberation Sans, sans-serif" >-15</text>
<text x="435.50" y="431.10" font-size="14.2" text-anchor="middle" font-weight="bold" font-family="Liberation Sans, sans-serif" >-10</text>
<text x="459.80" y="431.10" font-size="14.2" text-anchor="middle" font-weight="bold" font-family="Liberation Sans, sans-serif" >-5</text>
<text x="484.10" y="431.10" font-size="14.2" text-anchor="middle" font-weight="bold" font-family="Liberation Sans, sans-serif" >0</text>
<text x="508.70" y="431.10" font-size="14.2" text-anchor="middle" font-weight="bold" font-family="Liberation Sans, sans-serif" >5</text>
<text x="459.8" y="456.7" font-size="14" text-anchor="middle" font-weight="bold" font-family="Liberation Sans, sans-serif">log<tspan font-size="9.5" dy="2.8">2</tspan><tspan dy="-2.8">FC</tspan></text>
<text x="405.10" y="274.80" font-size="12.2" text-anchor="end" font-weight="bold" font-family="Liberation Sans, sans-serif" >Ciart</text>
<rect x="485.10" y="266.50" width="13.70" height="7.80" fill="#ff6600" />
<text x="405.10" y="286.75" font-size="12.2" text-anchor="end" font-weight="bold" font-family="Liberation Sans, sans-serif" >Tef</text>
<rect x="485.10" y="278.45" width="1.60" height="7.80" fill="#ff6600" />
<text x="405.10" y="298.71" font-size="12.2" text-anchor="end" font-weight="bold" font-family="Liberation Sans, sans-serif" >Nfil3</text>
<text x="405.10" y="310.66" font-size="12.2" text-anchor="end" font-weight="bold" font-family="Liberation Sans, sans-serif" >Dbp</text>
<rect x="485.10" y="302.37" width="4.50" height="7.80" fill="#ff6600" />
<text x="405.10" y="322.62" font-size="12.2" text-anchor="end" font-weight="bold" font-family="Liberation Sans, sans-serif" >Rora</text>
<rect x="440.20" y="314.32" width="43.40" height="7.80" fill="#808080" />
<text x="405.10" y="334.57" font-size="12.2" text-anchor="end" font-weight="bold" font-family="Liberation Sans, sans-serif" >Nr1d2</text>
<rect x="470.20" y="326.27" width="13.40" height="7.80" fill="#808080" />
<text x="405.10" y="346.53" font-size="12.2" text-anchor="end" font-weight="bold" font-family="Liberation Sans, sans-serif" >Nr1d1</text>
<rect x="430.00" y="338.23" width="53.60" height="7.80" fill="#808080" />
<text x="405.10" y="358.48" font-size="12.2" text-anchor="end" font-weight="bold" font-family="Liberation Sans, sans-serif" >Cry1</text>
<text x="405.10" y="370.44" font-size="12.2" text-anchor="end" font-weight="bold" font-family="Liberation Sans, sans-serif" >Per3</text>
<rect x="440.00" y="362.14" width="43.60" height="7.80" fill="#808080" />
<text x="405.10" y="382.39" font-size="12.2" text-anchor="end" font-weight="bold" font-family="Liberation Sans, sans-serif" >Per2</text>
<rect x="444.20" y="374.10" width="39.40" height="7.80" fill="#808080" />
<text x="405.10" y="394.35" font-size="12.2" text-anchor="end" font-weight="bold" font-family="Liberation Sans, sans-serif" >Npas2</text>
<rect x="438.40" y="386.05" width="45.20" height="7.80" fill="#808080" />
<text x="405.10" y="406.30" font-size="12.2" text-anchor="end" font-weight="bold" font-family="Liberation Sans, sans-serif" >Clock</text>
<rect x="442.30" y="398.00" width="41.30" height="7.80" fill="#808080" />
</svg>
</body></html>
